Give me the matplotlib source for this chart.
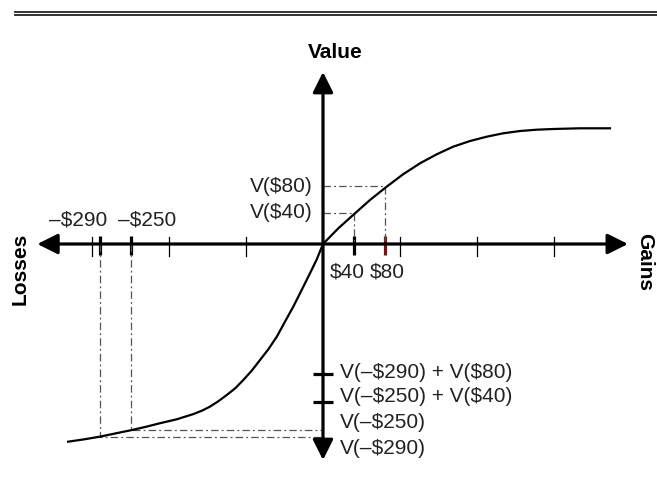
import numpy as np
import matplotlib
matplotlib.use("Agg")
import matplotlib.pyplot as plt

plt.rcParams['font.family'] = ['Liberation Sans', 'DejaVu Sans']
plt.rcParams['text.parse_math'] = False

# value function (x in $, value in arbitrary units)
loss_x = [-331, -310, -290, -270, -248, -230, -212, -190, -168, -157, -147, -136,
          -125, -114, -103.5, -92.6, -81.8, -71, -60, -49.4, -38.6, -27.7,
          -16.9, -8.2, 0]
loss_v = [-197.7, -195.3, -192.7, -189.5, -186, -182.8, -179.3, -175.3, -170,
          -166.6, -162.7, -157.3, -151, -144.3, -136, -126.7, -116, -105.3,
          -92.7, -77.7, -62.7, -46, -29.3, -15.5, 0]
gain_x = [0, 19.9, 41.6, 61, 82.7, 104, 126, 147.7, 169, 191, 212.6, 234, 256,
          277.5, 299, 333.8, 372.7]
gain_v = [0, 15.7, 30.7, 44, 57.3, 69.7, 80.7, 89.7, 97.3, 103, 107.3, 110.7,
          113, 114.3, 115, 115.7, 115.7]

# marked points
gain_pts = [40, 80]
gain_vals = [31, 58]
gain_lbls = ['$40', '$80']
loss_pts = [-290, -250]
loss_vals = [-193, -186]
loss_lbls = ['\u2013$290', '\u2013$250']
plain_ticks = [-300, -200, -100, 100, 200, 300]
sum_vals = [-130, -158]
ylabels = ['V(\u2013$290) + V($80)', 'V(\u2013$250) + V($40)',
           'V(\u2013$250)', 'V(\u2013$290)']
ylabel_pos = [-128, -153, -178, -204]

fig = plt.figure(figsize=(6.57, 4.82), dpi=100)
ax = fig.add_axes([0, 0, 1, 1])
ax.set_xlim(-323 / 0.77, (657 - 323) / 0.77)
ax.set_ylim(244 - 482, 244)
ax.axis('off')

# double rule at the top
ax.axhline(244 - 11.7, xmin=15 / 657, xmax=1, color='#222222', lw=1.3)
ax.axhline(244 - 15.3, xmin=15 / 657, xmax=1, color='#222222', lw=1.3)

# axes with arrowheads
arrow = dict(arrowstyle='<|-|>,head_length=0.62,head_width=0.31',
             mutation_scale=20, lw=2.3, color='black', shrinkA=0, shrinkB=0)
ax.annotate('', xy=(396, 0), xytext=(-371, 0), arrowprops=arrow)
ax.annotate('', xy=(0, 172), xytext=(0, -216), arrowprops=arrow)

# ticks on the horizontal axis
for t in plain_ticks:
    ax.plot([t, t], [7.5, -12], color='black', lw=0.9)
for t in loss_pts + [40]:
    ax.plot([t, t], [8, -11], color='black', lw=2.3, solid_capstyle='butt')
ax.plot([80, 80], [8, -11], color='#7a1010', lw=2.3, solid_capstyle='butt')

# ticks on the vertical axis
for v in sum_vals:
    ax.plot([-13, 13], [v, v], color='black', lw=2.3, solid_capstyle='butt')

# guide lines
dash = (0, (6, 2.5, 1.5, 2.5))
for x, v in zip(gain_pts, gain_vals):
    ax.plot([0, x, x], [v, v, 0], color='#555555', lw=0.9, ls=dash)
for x, v in zip(loss_pts, loss_vals):
    ax.plot([x, x, 0], [0, v, v], color='#555555', lw=0.9, ls=dash)

# value curve
ax.plot(loss_x + gain_x[1:], loss_v + gain_v[1:], color='black', lw=1.6,
        solid_joinstyle='round', zorder=5)

fs = 15
ax.text(15.6, 192, 'Value', fontsize=fs, fontweight='bold', ha='center', va='center')
ax.text(-393.5, -25, 'Losses', fontsize=fs, fontweight='bold', ha='center',
        va='center', rotation=90)
ax.text(418, -18, 'Gains', fontsize=fs, fontweight='bold', ha='center',
        va='center', rotation=-90)

for x, lbl in zip([-318, -228.6], loss_lbls):
    ax.text(x, 24, lbl, fontsize=fs, ha='center', va='center', color='#222222')
for x, lbl in zip([31, 83.8], gain_lbls):
    ax.text(x, -28, lbl, fontsize=fs, ha='center', va='center', color='#222222')
for v, lbl in zip(gain_vals, ['V($40)', 'V($80)']):
    ax.text(-13, v, lbl, fontsize=fs, ha='right', va='center', color='#222222')
for v, lbl in zip(ylabel_pos, ylabels):
    ax.text(22, v, lbl, fontsize=fs, ha='left', va='center', color='#222222')

fig.savefig('out.png', dpi=100)
